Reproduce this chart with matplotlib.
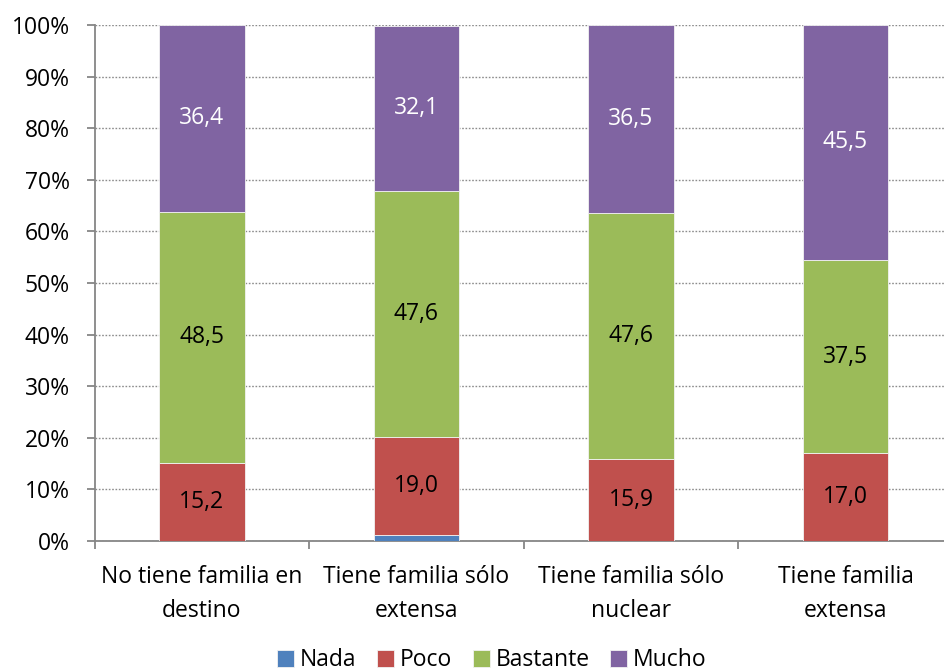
import matplotlib
matplotlib.use("Agg")
import matplotlib.pyplot as plt
import numpy as np

plt.rcParams['font.family'] = ['Open Sans', 'DejaVu Sans']

categories = ["No tiene familia en\ndestino", "Tiene familia sólo\nextensa",
              "Tiene familia sólo\nnuclear", "Tiene familia\nextensa"]
series_names = ["Nada", "Poco", "Bastante", "Mucho"]
nada = [0.0, 1.2, 0.0, 0.0]
poco = [15.2, 19.0, 15.9, 17.0]
bastante = [48.5, 47.6, 47.6, 37.5]
mucho = [36.4, 32.1, 36.5, 45.5]
colors = ["#4F81BD", "#C0504D", "#9BBB59", "#8064A2"]
label_colors = [None, "black", "black", "white"]
yticks = list(range(0, 101, 10))

FS = 16.5

fig = plt.figure(figsize=(9.44, 6.71), dpi=100)
ax = fig.add_axes([0.1003, 0.1937, 0.909, 0.769])

x = np.arange(len(categories))
bottom = np.zeros(len(categories))
for name, vals, col, lc in zip(series_names, [nada, poco, bastante, mucho], colors, label_colors):
    vals = np.array(vals)
    ax.bar(x, vals, width=0.4, bottom=bottom, color=col, edgecolor="#F2F2F2",
           linewidth=0.6, label=name, zorder=3)
    if lc is not None:
        for xi, b, v in zip(x, bottom, vals):
            ax.text(xi, b + v / 2, f"{v:.1f}".replace(".", ","), ha="center", va="center",
                    color=lc, fontsize=FS, zorder=4)
    bottom += vals

ax.set_xlim(-0.5, 3.5)
ax.set_ylim(0, 100)
ax.set_yticks(yticks)
ax.set_yticklabels([f"{t}%" for t in yticks], fontsize=FS)
ax.yaxis.grid(True, linestyle=(0, (1.2, 1.2)), color="#8C8C8C", linewidth=1.0, zorder=0)

ax.set_xticks(x)
ax.set_xticklabels(categories, fontsize=FS, linespacing=1.55)
ax.tick_params(axis="x", length=0, pad=17)
ax.set_xticks(np.arange(-0.5, 4.0, 1.0), minor=True)
ax.tick_params(axis="x", which="minor", length=6, color="#868686", width=1.3)
ax.tick_params(axis="y", length=6, color="#868686", width=1.3, direction="out", pad=12)

for side in ["top", "right"]:
    ax.spines[side].set_visible(False)
for side in ["left", "bottom"]:
    ax.spines[side].set_color("#868686")
    ax.spines[side].set_linewidth(1.3)

leg = fig.legend(loc="lower center", bbox_to_anchor=(0.521, -0.029), ncol=4, frameon=False,
                 fontsize=FS, handlelength=0.75, handleheight=0.75, handletextpad=0.25,
                 columnspacing=0.9, borderpad=0.3)

fig.savefig("out.png", dpi=100)
